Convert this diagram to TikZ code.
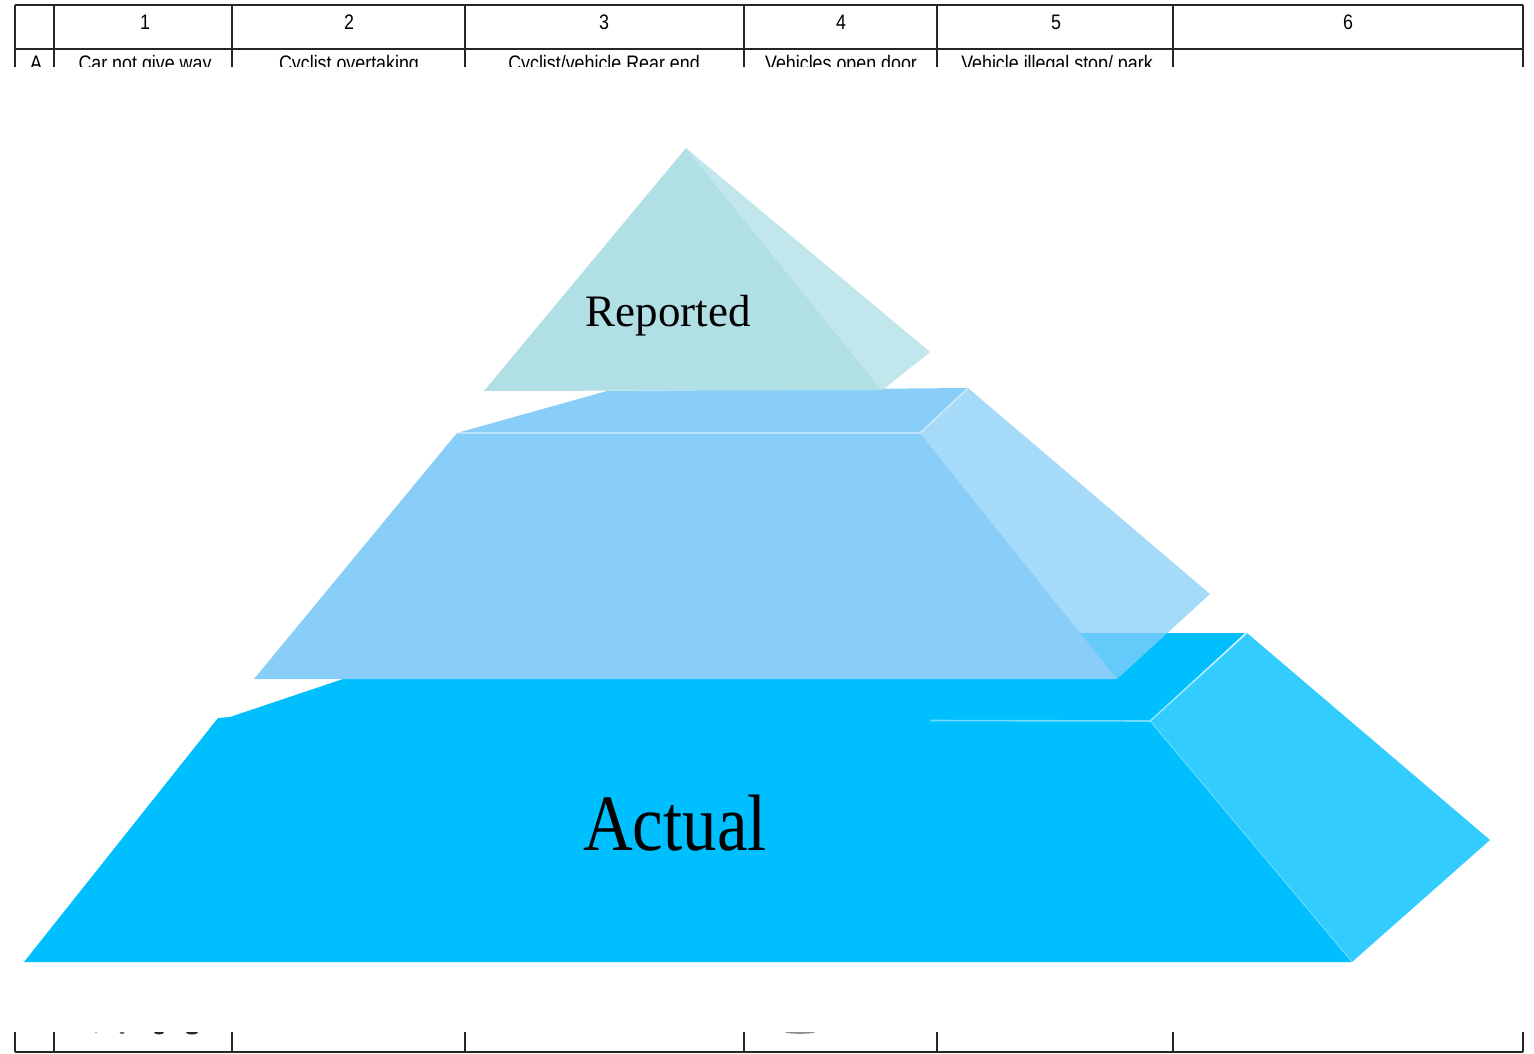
\documentclass[tikz,border=0pt]{standalone}
\usepackage{fontspec}
\newfontfamily\tabfont{Liberation Sans}
\newfontfamily\lblfont{Liberation Serif}
\definecolor{repF}{HTML}{B0DFE5}
\definecolor{repS}{HTML}{C1E6EB}
\definecolor{midF}{HTML}{88CEF8}
\definecolor{botF}{HTML}{00BFFF}
\definecolor{botS}{HTML}{33CCFF}
\begin{document}
\begin{tikzpicture}[x=1pt,y=-1pt,line join=miter]
\tikzset{
  tline/.style={draw=black!85,line width=1.3pt},
  tabtxt/.style={font=\tabfont\fontsize{21}{24}\selectfont,anchor=base,inner sep=0pt},
  sepline/.style={draw=white,draw opacity=0.45,line width=1.6pt},
  lbl/.style={anchor=base,inner sep=0pt,text=black,font=\lblfont}
}
\useasboundingbox (0,0) rectangle (1534,1054);
\fill[white] (0,0) rectangle (1534,1054);
% ---------------- table ----------------
\draw[tline] (15,5) -- (1523,5);
\draw[tline] (15,49) -- (1523,49);
\draw[tline] (15,1052) -- (1523,1052);
\foreach \xx in {15,54,232,465,744,937,1173,1523}
  \draw[tline] (\xx,5) -- (\xx,1052);
\node[tabtxt] (h1) at (145,30) {\scalebox{0.85}[1]{1}};
\node[tabtxt] (h2) at (349,30) {\scalebox{0.85}[1]{2}};
\node[tabtxt] (h3) at (604,30) {\scalebox{0.85}[1]{3}};
\node[tabtxt] (h4) at (841,30) {\scalebox{0.85}[1]{4}};
\node[tabtxt] (h5) at (1056,30) {\scalebox{0.85}[1]{5}};
\node[tabtxt] (h6) at (1348,30) {\scalebox{0.85}[1]{6}};
\node[tabtxt] (ra) at (36,71) {\scalebox{0.85}[1]{A}};
\node[tabtxt] (r1) at (145,71) {\scalebox{0.85}[1]{Car not give way}};
\node[tabtxt] (r2) at (349,71) {\scalebox{0.85}[1]{Cyclist overtaking}};
\node[tabtxt] (r3) at (604,71) {\scalebox{0.85}[1]{Cyclist/vehicle Rear end}};
\node[tabtxt] (r4) at (841,71) {\scalebox{0.85}[1]{Vehicles open door}};
\node[tabtxt] (r5) at (1057,71) {\scalebox{0.85}[1]{Vehicle illegal stop/ park}};
% remnants of text at the bottom
\fill[black!30] (96,1032) ellipse (1.5 and 1.5);
\fill[black!60] (122,1032) ellipse (2.5 and 2);
\fill[black!85] (159,1032) ellipse (5 and 2.5);
\fill[black!85] (192,1032) ellipse (6 and 2.5);
\fill[black!45] (800,1032) ellipse (15 and 1.8);
% white picture covering the table
\fill[white] (0,67.5) rectangle (1534,1031.5);
% ---------------- pyramid ----------------
% bottom layer (front + top face)
\fill[botF] (24,962) -- (218,718) -- (230,717) -- (480,633) -- (1245,633)
  -- (1150,721) -- (1352,962) -- cycle;
\fill[botS] (1150,721) -- (1247,633) -- (1490,840) -- (1352,962) -- cycle;
\draw[sepline] (930,720.5) -- (1150,721) -- (1247,633);
\draw[sepline,draw opacity=0.25,line width=1pt] (1150,721) -- (1352,962);
% middle layer (front + top face)
\fill[midF] (254,679) -- (457,433) -- (607,391) -- (968,388) -- (920,433)
  -- (1117,679) -- cycle;
\fill[midF,fill opacity=0.75] (920,433) -- (968,388) -- (1210,594) -- (1117,679) -- cycle;
\draw[sepline] (457,433) -- (920,433) -- (968,388);
% top triangle
\fill[repF] (686,148) -- (484,391) -- (882,390) -- cycle;
\fill[repS] (686,148) -- (930,352) -- (885,388) -- (882,390) -- cycle;
% labels
\node[lbl] (reported) at (668,326) {\fontsize{45}{50}\selectfont\scalebox{1.0}[1]{Reported}};
\node[lbl] (actual) at (675,850) {\fontsize{80}{88}\selectfont\scalebox{0.86}[1]{Actual}};
\end{tikzpicture}
\end{document}
